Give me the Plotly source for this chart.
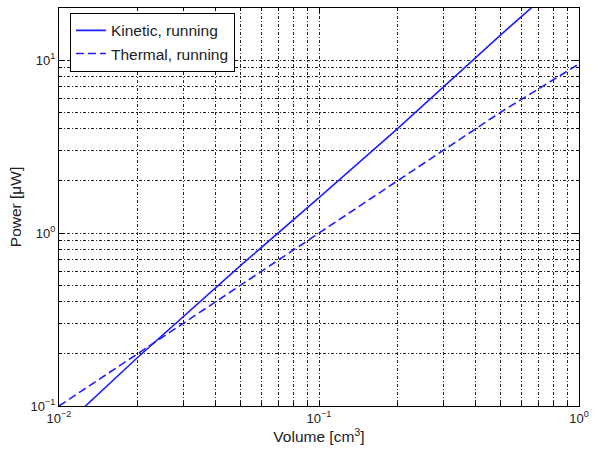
import plotly.graph_objects as go

# Data (log-log)
volume = [0.01, 0.02, 0.05, 0.1, 0.2, 0.5, 1.0]
kinetic = [0.072, 0.19, 0.65, 1.6, 4.0, 14.0, 35.0]
thermal = [0.1, 0.2, 0.5, 1.0, 2.0, 5.0, 9.5]

x_ticks = [0.01, 0.1, 1]
x_text = ["10<sup>−2</sup>", "10<sup>−1</sup>", "10<sup>0</sup>"]
y_ticks = [0.1, 1, 10]
y_text = ["10<sup>−1</sup>", "10<sup>0</sup>", "10<sup>1</sup>"]

blue = "#1f1fff"
fam = "Liberation Sans, Arial, sans-serif"
tick_font = dict(family=fam, size=13, color="#222")
title_font = dict(family=fam, size=15.5, color="#222")

fig = go.Figure()
fig.add_trace(go.Scatter(x=volume, y=kinetic, mode="lines", name="Kinetic, running",
                         line=dict(color=blue, width=1.6)))
fig.add_trace(go.Scatter(x=volume, y=thermal, mode="lines", name="Thermal, running",
                         line=dict(color=blue, width=1.6, dash="8px,4px")))

axis_common = dict(
    type="log", showline=True, linecolor="black", linewidth=1.2, mirror="ticks",
    ticks="inside", ticklen=5, tickcolor="black",
    showgrid=True, gridcolor="#222", gridwidth=1, griddash="3px,2px,1px,2px",
    zeroline=False, tickfont=tick_font,
    minor=dict(dtick="D1", ticks="inside", ticklen=3, tickcolor="black",
               showgrid=True, gridcolor="#222", gridwidth=1,
               griddash="3px,2px,1px,2px"),
)

fig.update_xaxes(range=[-2, 0], tickvals=x_ticks, ticktext=x_text,
                 title=dict(text="Volume [cm<sup>3</sup>]", font=title_font, standoff=4),
                 **axis_common)
fig.update_yaxes(range=[-1, 1.301], tickvals=y_ticks, ticktext=y_text,
                 title=dict(text="Power [μW]", font=title_font, standoff=5),
                 **axis_common)

fig.update_layout(
    width=596, height=455,
    margin=dict(l=59, r=12, t=7, b=49),
    plot_bgcolor="white", paper_bgcolor="white",
    font=tick_font,
    showlegend=True,
    legend=dict(x=0.021, y=0.988, xanchor="left", yanchor="top",
                bgcolor="white", bordercolor="black", borderwidth=1,
                font=title_font, tracegroupgap=0, itemwidth=30),
)

fig.write_html("out.html")
